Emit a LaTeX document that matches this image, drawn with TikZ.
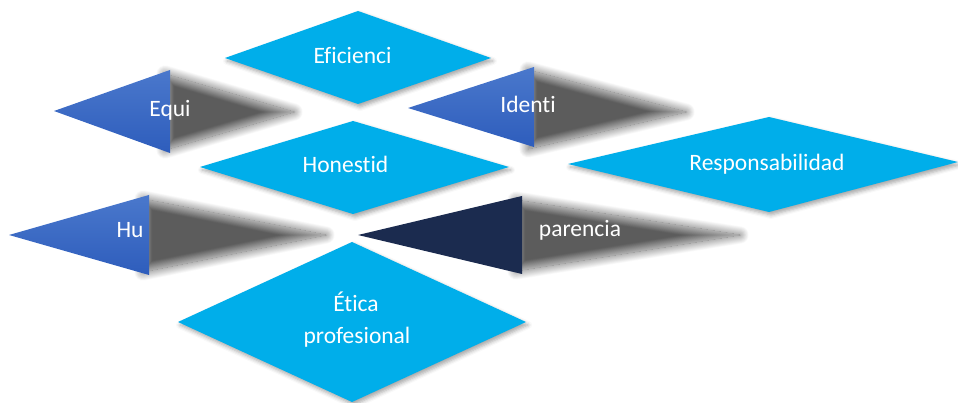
\documentclass[tikz,border=0pt]{standalone}
\usepackage{fontspec}
\setmainfont{Carlito}[Ligatures={NoCommon}]
\usetikzlibrary{shadows.blur}
\definecolor{cyanD}{HTML}{00AEEA}
\definecolor{blueT}{HTML}{4A78CC}
\definecolor{blueB}{HTML}{2E5DBC}
\definecolor{navy}{HTML}{1B2B4F}
\tikzset{
  cyanbox/.style={fill=cyanD, blur shadow={shadow xshift=2pt, shadow yshift=-3pt, shadow opacity=35, shadow blur radius=4pt}},
  grayblur/.style={blur shadow={shadow xshift=0pt, shadow yshift=0pt, shadow opacity=64, shadow blur radius=9pt, shadow blur steps=30}},
  bluetri/.style={top color=blueT, bottom color=blueB, draw=none},
  navytri/.style={fill=navy, draw=none},
  txt/.style={text=white, font=\fontsize{23.5}{31}\selectfont, anchor=base, inner sep=0pt}
}
\begin{document}
\begin{tikzpicture}[x=1pt,y=-1pt]
\useasboundingbox (0,0) rectangle (958,403);
% Eficienci
\path[cyanbox] (225,58) -- (358,11) -- (491,58) -- (358,104) -- cycle;
% Equi
\path[grayblur] (165,74) -- (294,112) -- (165,150) -- cycle;
\path[bluetri] (54,111) -- (170,70) -- (170,153) -- cycle;
% Identi
\path[grayblur] (528,70) -- (686,112) -- (528,149) -- cycle;
\path[bluetri] (408,108) -- (534,67) -- (534,147) -- cycle;
% Honestid
\path[cyanbox] (200,167) -- (353,121) -- (509,167) -- (353,214) -- cycle;
% Responsabilidad
\path[cyanbox] (568,164) -- (769,117) -- (958,162) -- (769,212) -- cycle;
% Hu
\path[grayblur] (143,199) -- (326,235) -- (143,272) -- cycle;
\path[bluetri] (9,235) -- (149,195) -- (149,275) -- cycle;
% parencia
\path[grayblur] (516,200) -- (740,235) -- (516,271) -- cycle;
\path[navytri] (358,235) -- (522,196) -- (522,274) -- cycle;
% Etica profesional
\path[cyanbox] (178,322) -- (352,242) -- (526,322) -- (352,402) -- cycle;
% texts
\node[txt] (ef) at (352.5,64) {Eficienci};
\node[txt] (eq) at (170,117) {Equi};
\node[txt] (id) at (528,113) {Identi};
\node[txt] (ho) at (345.5,173) {Honestid};
\node[txt] (re) at (767,171) {Responsabilidad};
\node[txt] (hu) at (130,238) {Hu};
\node[txt] (pa) at (580,237) {parencia};
\node[txt] (et1) at (356,312) {Ética};
\node[txt] (et2) at (357,343) {profesional};
\end{tikzpicture}
\end{document}
